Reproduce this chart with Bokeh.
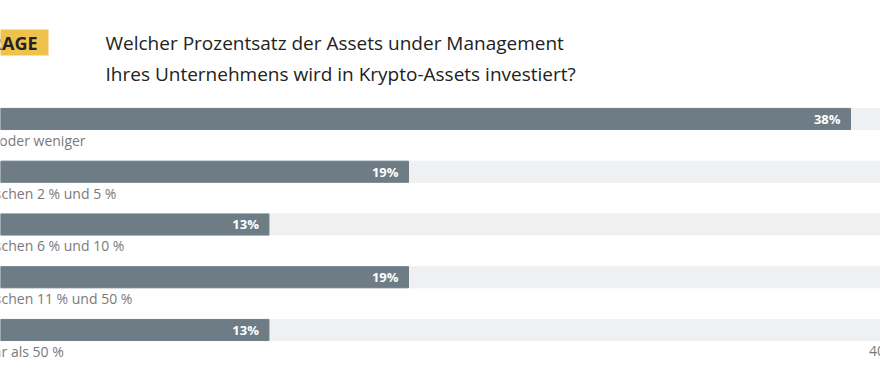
from bokeh.plotting import figure
from bokeh.models import Range1d, Label, BoxAnnotation, ColumnDataSource
from bokeh.core.properties import value
from bokeh.embed import file_html
from bokeh.resources import INLINE

categories = ["1 % oder weniger", "Zwischen 2 % und 5 %", "Zwischen 6 % und 10 %",
              "Zwischen 11 % und 50 %", "Mehr als 50 %"]
values = [38, 19, 13, 19, 13]
value_labels = ["38%", "19%", "13%", "19%", "13%"]
axis_max = 40
tick_values = [40]
tick_labels = ["40"]
title_lines = ["Welcher Prozentsatz der Assets under Management",
               "Ihres Unternehmens wird in Krypto-Assets investiert?"]

W, H = 880, 371
idx = list(range(len(categories)))
src = ColumnDataSource(dict(y=idx, v=values, lab=value_labels, cat=categories,
                            full=[axis_max] * len(categories), zero=[0] * len(categories)))

p = figure(width=W, height=H, output_backend="svg", toolbar_location=None,
           x_range=Range1d(1.462, 39.29), y_range=Range1d(4.787, -2.246),
           min_border=0, outline_line_color=None, background_fill_color="white",
           border_fill_color="white")
p.axis.visible = False
p.grid.visible = False

FONT = value("Open Sans")

p.hbar(y="y", left="zero", right="full", height=0.4, color="#eff0f2", source=src)
p.hbar(y="y", left="zero", right="v", height=0.4, color="#6e7d85", source=src)
p.text(x="v", y="y", text="lab", source=src, text_align="right", text_baseline="middle",
       x_offset=-10, text_color="white", text_font=FONT, text_font_size="13px",
       text_font_style="bold")
p.text(x="zero", y="y", text="cat", source=src, text_align="left", text_baseline="middle",
       x_offset=6, y_offset=21.5, text_color="#7a7a7a", text_font=FONT, text_font_size="14px")
p.text(x=tick_values, y=[len(categories) - 1] * len(tick_values), text=tick_labels,
       text_align="left", text_baseline="middle", x_offset=-28, y_offset=21.5,
       text_color="#7a7a7a", text_font=FONT, text_font_size="14px")

# header
p.add_layout(BoxAnnotation(left=-60, right=48, top=H - 29, bottom=H - 55,
                           left_units="screen", right_units="screen",
                           top_units="screen", bottom_units="screen",
                           fill_color="#f0c24b", fill_alpha=1, line_color=None))
p.add_layout(Label(x=37, y=H - 42, x_units="screen", y_units="screen", text="FRAGE",
                   text_align="right", text_baseline="middle", text_font="Open Sans",
                   text_font_size="18px", text_font_style="bold", text_color="#222222"))
for i, t in enumerate(title_lines):
    p.add_layout(Label(x=105, y=H - 42 - 31 * i, x_units="screen", y_units="screen", text=t,
                       text_align="left", text_baseline="middle", text_font="Open Sans",
                       text_font_size="19px", text_color="#222222"))

open("out.html", "w").write(file_html(p, INLINE))
